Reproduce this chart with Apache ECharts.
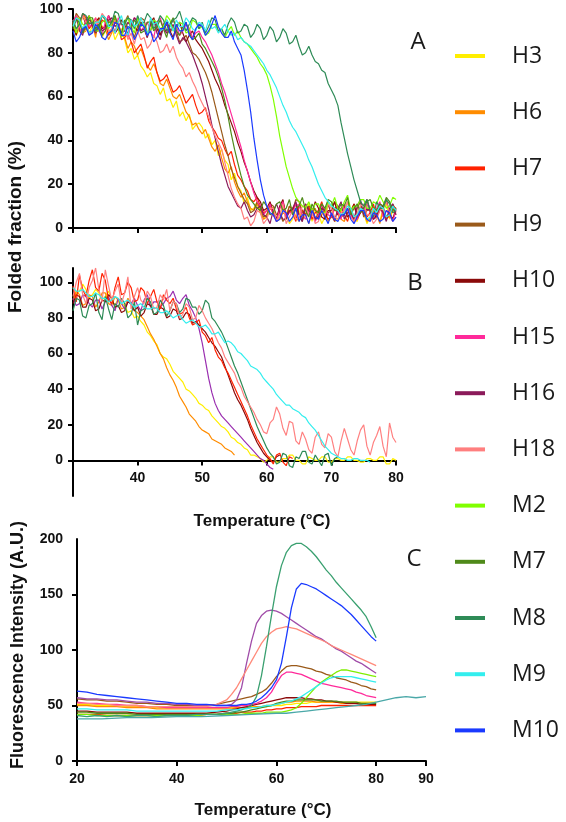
<!DOCTYPE html>
<html>
<head>
<meta charset="utf-8">
<script src="https://cdn.jsdelivr.net/npm/echarts@6/dist/echarts.min.js"></script>
<style>html,body{margin:0;padding:0;background:#fff}#c{width:566px;height:822px}</style>
</head>
<body>
<div id="c"></div>
<script>
// ---------- names & colours ----------
const seriesNames = ['H3','H6','H7','H9','H10','H15','H16','H18','M2','M7','M8','M9','M10'];
const seriesColors = ['#ffee00','#ff8c00','#ff2200','#9a5a1a','#8b0a0a','#ff2a9a','#8b1a5a','#ff7f7f','#80ff00','#4f8a1a','#2e8b57','#33eeee','#1a3aff'];

// ---------- panel A & B temperatures (°C, 0.5 step) ----------
const tempAB = [30,30.5,31,31.5,32,32.5,33,33.5,34,34.5,35,35.5,36,36.5,37,37.5,38,38.5,39,39.5,
  40,40.5,41,41.5,42,42.5,43,43.5,44,44.5,45,45.5,46,46.5,47,47.5,48,48.5,49,49.5,
  50,50.5,51,51.5,52,52.5,53,53.5,54,54.5,55,55.5,56,56.5,57,57.5,58,58.5,59,59.5,
  60,60.5,61,61.5,62,62.5,63,63.5,64,64.5,65,65.5,66,66.5,67,67.5,68,68.5,69,69.5,
  70,70.5,71,71.5,72,72.5,73,73.5,74,74.5,75,75.5,76,76.5,77,77.5,78,78.5,79,79.5,80];

// ---------- panel A: folded fraction (%) ----------
const H3A = [94,88,91,97,95,89,92,96,93,87, 90,95,92,86,89,91,86,80,82,77, 79,74,72,69,71,66,65,61,64,58, 59,55,58,51,53,49,52,45,47,48,
  46,41,43,38,40,33,36,31,29,22, 25,19,17,11,14,8,9,12,8,4, 6,10,9,3,5,11,7,2,4,9, 8,4,6,11,3,8,7,2,5,10, 9,3,4,8,6,12,8,4,3,9, 7,2,5,10,6,3,9,11,4,8, 7];
const H6A = [92,97,95,89,90,94,93,87,96,92, 91,86,89,95,92,88,87,82,85,83, 79,82,78,74,72,75,71,66,65,68, 64,60,59,61,57,53,51,47,48,45,
  43,45,41,37,35,38,32,27,25,28, 21,17,14,16,12,9,8,11,7,4, 5,9,8,3,4,7,6,10,9,5, 3,8,6,2,7,9,4,6,8,3, 5,9,6,4,3,7,9,5,5,10, 7,3,4,8,6,2,8,5,5,9, 6];
const H7A = [95,90,92,98,96,91,93,89,91,95, 94,88,90,94,92,86,87,89,85,80, 82,84,79,73,76,78,71,67,68,70, 66,62,63,65,61,57,59,61,56,52,
  53,55,49,46,44,41,40,36,33,35, 29,24,22,19,17,13,12,14,10,7, 8,11,6,4,9,12,5,8,7,3, 11,8,6,10,4,7,8,12,7,4, 5,9,10,6,6,3,8,11,4,7, 9,5,7,11,5,8,8,4,6,10, 9];
const H9A = [93,98,96,90,91,95,94,89,92,97, 95,90,90,96,93,88,94,97,91,87, 92,96,95,89,90,94,93,88,91,93, 89,92,90,85,86,88,84,80,79,77,
  74,71,67,62,56,50,44,38,33,27, 23,19,16,13,11,7,8,12,9,5, 6,11,10,6,7,3,5,10,8,13, 12,7,6,10,9,4,7,11,4,7, 8,12,10,5,6,9,7,3,9,12, 5,8,8,4,6,11,10,5,7,11, 8];
const H10A = [92,88,95,97,93,89,90,94,96,91, 92,97,94,89,91,95,93,88,95,92, 90,94,92,87,94,96,91,88,93,95, 90,87,92,94,89,85,88,90,86,84,
  82,79,76,72,68,65,61,56,52,48, 44,39,35,30,26,21,17,14,12,8, 9,12,7,4,10,13,5,8,8,11, 6,3,11,8,7,12,9,5,4,8, 8,12,6,9,10,5,7,11,5,7, 9,13,8,4,6,9,10,13,7,4, 9];
const H15A = [94,97,91,89,95,92,93,96,90,88, 94,97,92,89,96,93,91,87,93,96, 95,90,92,94,90,87,94,96,91,89, 93,95,92,88,90,93,91,87,89,90,
  87,85,82,79,75,71,66,62,57,52, 47,42,37,31,26,21,16,12,10,6, 8,11,6,3,9,12,5,7,7,11, 10,6,4,8,8,3,6,10,9,6, 5,9,7,4,11,8,6,3,4,9, 8,11,7,4,9,12,5,8,6,3, 8];
const H16A = [93,96,90,88,95,97,92,89,94,90, 91,95,96,92,93,89,90,94,92,96, 94,90,91,87,93,95,89,86,92,89, 90,93,88,84,87,85,82,79,75,71,
  66,60,54,47,41,35,29,24,19,16, 13,10,9,12,8,5,6,9,10,6, 5,2,8,11,7,4,4,8,9,12, 6,3,11,8,7,4,5,9,8,11, 6,3,9,12,4,7,7,4,10,13, 6,9,8,4,5,9,7,3,9,11, 6];
const H18A = [95,90,92,97,94,88,90,94,93,98, 96,90,91,95,94,88,92,86,89,84, 90,86,87,82,84,88,85,80,81,84, 80,83,78,75,73,69,71,67,64,60,
  57,54,51,46,42,39,36,30,24,18, 14,11,9,4,5,1,3,8,7,2, 4,9,9,3,6,11,2,5,8,4, 5,10,10,6,7,2,3,8,6,11, 9,5,4,7,8,12,5,3,7,10, 11,6,6,2,4,8,9,12,7,3, 5];
const M2A = [93,89,96,93,92,97,94,90,90,94, 95,91,93,97,91,87,94,96,92,89, 96,92,93,89,90,95,94,91,92,97, 95,90,91,94,93,89,90,95,94,91,
  92,88,89,93,93,90,91,87,90,92, 88,90,87,85,84,82,80,78,75,73, 70,65,59,51,42,35,28,23,18,14, 12,10,9,12,8,11,11,7,7,12, 10,14,9,8,12,15,8,10,10,13, 13,9,9,12,11,15,12,9,10,14, 13];
const M7A = [91,95,94,89,92,96,96,91,93,88, 90,94,94,97,92,89,95,91,91,95, 93,89,90,94,94,90,92,95,91,87, 93,96,90,88,92,94,89,86,87,89,
  84,82,79,76,73,69,64,58,51,43, 36,30,24,19,15,13,11,9,8,12, 10,6,7,11,12,8,9,13,6,9, 10,14,8,5,11,8,7,11,9,13, 12,8,8,11,10,14,6,9,11,7, 9,12,13,9,8,11,10,14,12,8, 9];
const M8A = [95,91,93,98,97,93,94,90,92,97, 96,92,94,99,98,93,93,96,95,91, 97,93,94,98,96,91,93,97,95,90, 92,95,96,99,94,90,93,96,95,91,
  94,89,92,96,95,90,91,88,93,96, 94,89,90,93,92,87,89,93,91,86, 88,92,90,85,87,91,89,84,85,88, 83,79,80,83,79,76,75,72,71,66, 63,60,56,48,41,34,28,22,17,12, 10,13,8,5,12,9,9,13,11,7, 8];
const M9A = [92,96,95,91,93,89,90,94,94,97, 96,92,92,89,94,97,91,88,95,92, 93,96,92,88,96,93,94,90,91,95, 93,90,95,92,92,96,94,91,90,94,
  93,90,95,91,92,89,91,93,90,88, 89,86,87,85,84,83,81,79,77,75, 72,70,67,64,60,56,53,49,46,44, 41,38,35,31,28,24,20,17,14,12, 10,9,8,6,7,10,9,5,6,9, 8,4,5,9,7,10,9,5,6,10, 8];
const M10A = [90,85,87,91,92,88,89,93,91,87, 86,89,90,94,93,88,88,92,91,86, 89,93,92,88,90,85,87,91,91,94, 89,86,93,90,90,94,88,86,91,93,
  92,88,90,93,97,92,89,87,87,90, 85,82,79,72,63,53,41,31,22,15, 10,7,6,3,4,8,7,3,5,9, 3,6,6,2,8,5,4,8,5,2, 7,4,3,6,6,9,4,2,5,8, 8,4,3,7,6,3,4,8,7,3, 5];
const panelA = [H3A,H6A,H7A,H9A,H10A,H15A,H16A,H18A,M2A,M7A,M8A,M9A,M10A];

// ---------- panel B: folded fraction (%) ----------
const H3B = [97,93,95,99,96,91,93,96,94,90, 92,95,90,87,91,88,87,83,84,80, 81,78,76,72,70,67,65,60,58,57, 54,50,48,46,44,40,39,37,35,32,
  31,29,28,25,23,21,19,18,16,13, 12,10,9,7,6,3,3,2,1,-1, 0,2,2,-1,-1,1,1,3,3,0, 0,-2,-2,2,1,0,0,2,2,-1, -1,1,1,0,0,2,2,0,0,-1, -1,1,1,0,0,2,2,-2,-2,1, 0];
const H6B = [90,95,93,87,88,93,92,86,89,94, 94,88,87,92,90,85,86,91,88,84, 83,81,79,75,71,68,64,60,57,52, 48,45,41,36,33,30,26,24,22,19,
  17,16,15,12,11,10,9,7,6,5, 3];
const H7B = [98,89,104,96,92,101,107,97,95,105, 101,90,88,97,103,93,94,100,97,89, 90,97,95,88,92,96,89,85,93,90, 88,91,85,82,83,86,80,76,77,79,
  72,70,66,69,62,58,56,52,49,45, 41,37,33,29,25,20,16,12,9,6, 3,1,-2,3,4,-1,-3,2,1];
const H10B = [88,93,92,86,86,91,90,84,85,90, 89,93,91,86,87,83,84,89,88,84, 86,81,83,88,87,82,82,86,85,80, 81,85,84,79,80,83,82,77,78,76,
  74,72,69,66,64,61,58,53,48,43, 38,34,31,27,23,18,14,10,7,4, 2,0,-1,2,3];
const H16B = [91,87,88,93,92,88,86,90,90,85, 89,92,87,84,91,88,85,89,88,91, 87,84,90,93,86,89,89,86,88,91, 92,95,90,88,91,93,87,84,80,74,
  66,56,46,38,32,28,25,23,21,19, 17,15,13,11,9,7,5,3,1,0, -2,-4,-5];
const H18B = [92,100,105,93,88,97,101,108,96,89, 107,98,90,95,99,88,94,103,85,92, 97,90,88,95,92,85,86,93,90,96, 84,89,88,80,82,88,86,79,80,87,
  84,80,77,74,70,66,63,58,55,52, 49,44,41,36,33,30,27,23,20,16, 15,21,23,30,26,18,14,22,21,11, 9,16,12,6,4,13,16,9,7,15, 13,5,2,11,18,12,6,3,11,17, 20,8,3,10,14,19,8,2,21,13, 10];
const M8B = [84,91,90,81,80,87,88,94,83,79, 92,85,79,88,86,91,88,80,82,89, 76,84,85,91,89,82,83,90,87,81, 84,89,88,83,85,91,90,86,86,82,
  84,90,88,80,78,75,72,68,63,58, 53,49,44,39,34,29,24,19,15,11, 7,4,2,-2,-1,4,3,-3,-4,2, 1,5,5,-1,-2,3,0,-3,3,4, -3,1,2];
const M9B = [97,95,95,96,94,92,92,94,93,91, 91,89,90,92,91,88,89,90,88,86, 87,88,86,85,85,86,85,83,83,84, 82,80,81,82,79,77,78,79,77,75,
  75,76,74,71,71,72,69,66,67,66, 64,61,60,58,56,53,52,51,49,46, 44,42,40,37,35,33,31,31,29,28, 27,25,24,21,19,17,14,11,8,6, 4,3,2,1,1,0,0,1,1,0, 0,0,-1];
const panelBNames  = ['H3','H6','H16','H10','H7','M8','H18','M9'];
const panelBColors = ['#ffee00','#ff8c00','#9a2fb0','#8b0a0a','#ff2200','#2e8b57','#ff8080','#33eeee'];
const panelB = [H3B,H6B,H16B,H10B,H7B,M8B,H18B,M9B];

// ---------- panel C: fluorescence intensity (A.U.) ----------
const tempC = [20,22,24,26,28,30,32,34,36,38,40,42,44,46,48,50,51,52,53,54,55,56,57,58,59,60,61,62,63,64,65,66,67,68,69,70,71,72,73,74,75,76,77,78,79,80];
const H3C  = [51,51,50,50,50,49,49,49,48,48,48,48,48,48,48,48,48,48,48,48,49,49,49,49,50,50,50,51,51,52,52,52,53,53,53,53,53,53,53,53,53,53,53,53,53,53];
const H6C  = [50,50,49,49,49,48,48,48,47,47,47,47,47,47,47,47,47,48,48,48,48,49,49,50,50,51,52,53,53,54,54,54,54,53,53,53,53,53,52,52,52,52,52,52,52,52];
const H7C  = [42,42,42,41,41,41,41,41,41,41,41,41,41,42,42,43,43,43,44,44,44,45,45,46,46,47,47,48,48,48,49,49,49,49,50,50,50,50,50,50,50,50,50,50,50,50];
const H9C  = [56,55,55,54,54,53,52,52,51,51,50,50,50,50,51,53,54,55,56,57,58,60,62,65,70,76,81,85,86,86,85,84,83,81,80,78,77,75,74,73,71,70,68,67,65,64];
const H10C = [45,45,44,44,44,44,43,43,43,43,43,43,43,43,44,45,46,47,48,49,50,51,52,53,54,55,56,57,57,57,57,56,56,55,55,54,54,53,53,52,52,52,51,51,51,51];
const H15C = [53,52,52,51,51,50,50,49,49,48,48,48,48,48,48,48,49,49,50,50,51,52,54,57,62,70,77,80,80,79,78,76,74,72,70,69,68,67,66,65,64,62,61,59,58,57];
const H16C = [57,56,56,55,55,54,53,53,52,52,51,51,50,50,50,50,51,55,66,88,108,124,131,135,136,135,133,130,127,124,121,118,115,112,110,107,104,101,99,96,93,90,88,85,82,79];
const H18C = [52,52,51,51,50,50,50,49,49,49,49,49,49,49,51,55,60,66,74,82,90,98,106,112,116,119,120,121,120,119,117,115,113,111,109,107,104,102,100,98,96,94,92,90,88,86];
const M2C  = [42,42,41,41,41,41,41,41,41,41,41,41,41,42,42,42,42,42,42,43,43,43,43,44,44,44,44,45,46,48,52,57,62,67,71,74,77,80,82,82,81,80,79,78,77,76];
const M7C  = [44,44,43,43,43,43,42,42,42,42,42,42,42,42,42,43,43,44,44,45,46,47,48,49,50,52,53,54,54,55,55,55,55,55,54,54,54,54,53,53,53,53,52,52,52,52];
const M8C  = [41,40,41,40,41,40,41,41,40,41,41,41,42,42,42,43,44,45,46,48,50,58,77,103,131,157,176,188,194,196,196,193,189,184,178,172,167,161,156,151,146,141,136,130,121,111];
const M9C  = [47,47,46,46,46,46,45,45,45,45,45,45,45,45,45,46,46,46,47,47,48,48,49,50,50,51,52,53,54,56,58,61,64,67,70,73,75,76,76,76,76,75,74,73,72,71];
const M10C = [63,62,60,59,58,57,56,55,54,53,52,52,51,51,50,50,50,50,51,51,52,54,57,61,66,73,88,112,138,155,160,159,157,155,152,149,146,143,140,136,132,127,122,117,112,108];
const panelC = [H3C,H6C,H7C,H9C,H10C,H15C,H16C,H18C,M2C,M7C,M8C,M9C,M10C];
const panelCColors = ['#ffee00','#ff8c00','#ff2200','#9a5a1a','#8b0a0a','#ff2a9a','#a04ca8','#ff8a7a','#80ee00','#4f8a1a','#3aa070','#33eeee','#1a3aff'];
// unlabelled control trace that runs to 90 °C
const tempCtrl = [20,25,30,35,40,45,50,55,60,62,64,66,68,70,72,74,76,78,80,82,84,86,88,90];
const ctrlC    = [38,38,39,39,40,40,41,42,43,43,44,45,46,47,48,49,50,51,53,55,57,58,57,58];

// ---------- tick labels ----------
const yTicksA = [0,20,40,60,80,100];
const xTicksA = [30,40,50,60,70,80];
const yTicksB = [0,20,40,60,80,100];
const xLabelsB = [40,50,60,70,80];
const yLabelsC = [0,50,100,150,200];
const yTickMarksC = [0,50,100,150];
const xTicksC = [20,40,60,80,90];

// pair each value with its temperature (shorter arrays simply end earlier)
const zip = (xs, ys) => ys.map((y, i) => [xs[i], y]);

const tickFont = {fontFamily: 'Liberation Sans, Arial, sans-serif', fontWeight: 'bold', fontSize: 14, color: '#111'};
const axisLine = {show: true, onZero: false, lineStyle: {color: '#000', width: 2}};
const tickStyle = {show: true, length: 5, lineStyle: {color: '#000', width: 2}};

const series = [];
panelA.forEach((vals, i) => series.push({
  name: seriesNames[i], type: 'line', xAxisIndex: 0, yAxisIndex: 0,
  data: zip(tempAB, vals), showSymbol: false, clip: true,
  lineStyle: {width: 1.2, color: seriesColors[i]}, itemStyle: {color: seriesColors[i]}
}));
panelB.forEach((vals, i) => series.push({
  name: panelBNames[i], type: 'line', xAxisIndex: 1, yAxisIndex: 1,
  data: zip(tempAB, vals), showSymbol: false, clip: true,
  lineStyle: {width: 1.2, color: panelBColors[i]}, itemStyle: {color: panelBColors[i]}
}));
panelC.forEach((vals, i) => series.push({
  name: seriesNames[i], type: 'line', xAxisIndex: 2, yAxisIndex: 2,
  data: zip(tempC, vals), showSymbol: false, clip: true,
  lineStyle: {width: 1.3, color: panelCColors[i]}, itemStyle: {color: panelCColors[i]}
}));
series.push({
  name: 'control', type: 'line', xAxisIndex: 2, yAxisIndex: 2,
  data: zip(tempCtrl, ctrlC), showSymbol: false,
  lineStyle: {width: 1.3, color: '#4aa8a8'}, itemStyle: {color: '#4aa8a8'}
});

const chart = echarts.init(document.getElementById('c'), null, {renderer: 'canvas'});
chart.setOption({
  animation: false,
  backgroundColor: '#fff',
  grid: [
    {left: 73, top: 9, width: 323, height: 219},
    {left: 73, top: 268, width: 323, height: 228},
    {left: 77, top: 539, width: 349, height: 222}
  ],
  xAxis: [
    {gridIndex: 0, type: 'value', min: 30, max: 80, interval: 10, axisLine: axisLine,
     axisTick: Object.assign({customValues: xTicksA}, tickStyle), axisLabel: {show: false}, splitLine: {show: false}},
    {gridIndex: 1, type: 'value', min: 30, max: 80, interval: 10, position: 'bottom', offset: -35.6,
     axisLine: axisLine,
     axisTick: Object.assign({customValues: xLabelsB}, tickStyle),
     axisLabel: Object.assign({customValues: xLabelsB, margin: 11}, tickFont), splitLine: {show: false}},
    {gridIndex: 2, type: 'value', min: 20, max: 90, interval: 10, axisLine: axisLine,
     axisTick: Object.assign({customValues: xTicksC}, tickStyle),
     axisLabel: Object.assign({customValues: xTicksC, margin: 11}, tickFont), splitLine: {show: false}}
  ],
  yAxis: [
    {gridIndex: 0, type: 'value', min: 0, max: 100, interval: 20, axisLine: axisLine,
     axisTick: Object.assign({customValues: yTicksA}, tickStyle),
     axisLabel: Object.assign({customValues: yTicksA, margin: 10}, tickFont), splitLine: {show: false}},
    {gridIndex: 1, type: 'value', min: -20, max: 108, axisLine: axisLine,
     axisTick: Object.assign({customValues: yTicksB}, tickStyle),
     axisLabel: Object.assign({customValues: yTicksB, margin: 10}, tickFont), splitLine: {show: false}},
    {gridIndex: 2, type: 'value', min: 0, max: 200, interval: 50, axisLine: axisLine,
     axisTick: Object.assign({customValues: yTickMarksC}, tickStyle),
     axisLabel: Object.assign({customValues: yLabelsC, margin: 14}, tickFont), splitLine: {show: false}}
  ],
  legend: {
    data: seriesNames, orient: 'vertical', left: 455, top: 41, padding: 0,
    icon: 'rect', itemWidth: 30, itemHeight: 4, itemGap: 26.2, selectedMode: false,
    textStyle: {fontFamily: 'Open Sans', fontSize: 23, lineHeight: 30, color: '#1a1a1a', padding: [0, 0, 0, 22]}
  },
  graphic: [
    {type: 'text', x: 418, y: 42, style: {text: 'A', font: '24px "Open Sans"', fill: '#1a1a1a', textAlign: 'center', textVerticalAlign: 'middle'}},
    {type: 'text', x: 415, y: 283, style: {text: 'B', font: '24px "Open Sans"', fill: '#1a1a1a', textAlign: 'center', textVerticalAlign: 'middle'}},
    {type: 'text', x: 414, y: 559, style: {text: 'C', font: '24px "Open Sans"', fill: '#1a1a1a', textAlign: 'center', textVerticalAlign: 'middle'}},
    {type: 'text', x: 16, y: 227, rotation: Math.PI / 2, style: {text: 'Folded fraction (%)', font: 'bold 19px "Liberation Sans", Arial, sans-serif', fill: '#111', textAlign: 'center', textVerticalAlign: 'middle'}},
    {type: 'text', x: 262, y: 521, style: {text: 'Temperature (°C)', font: 'bold 17px "Liberation Sans", Arial, sans-serif', fill: '#111', textAlign: 'center', textVerticalAlign: 'middle'}},
    {type: 'text', x: 18, y: 645, rotation: Math.PI / 2, style: {text: 'Fluorescence Intensity (A.U.)', font: 'bold 18px "Liberation Sans", Arial, sans-serif', fill: '#111', textAlign: 'center', textVerticalAlign: 'middle'}},
    {type: 'text', x: 263, y: 810, style: {text: 'Temperature (°C)', font: 'bold 17px "Liberation Sans", Arial, sans-serif', fill: '#111', textAlign: 'center', textVerticalAlign: 'middle'}}
  ],
  series: series
});
</script>
</body>
</html>
